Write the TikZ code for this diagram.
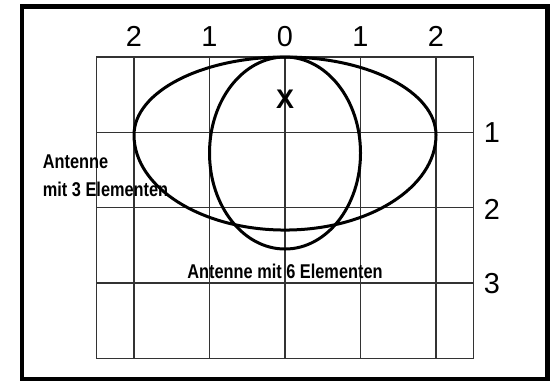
\documentclass[tikz,border=0pt]{standalone}
\usepackage{fontspec}
\setmainfont{Liberation Sans}
\newfontfamily\condfont[FakeStretch=0.82]{Liberation Sans}
\usepackage{tikz}

\begin{document}
\begin{tikzpicture}[x=75.5bp,y=-75.3bp,
		raster/.style={line width=1.3bp,black!80},
		achse/.style={font=\fontsize{29}{30}\selectfont,inner sep=0pt},
		beschr/.style={font=\condfont\bfseries\fontsize{20}{28}\selectfont,inner sep=0pt}]
	
	\useasboundingbox (-3.775,-0.757) rectangle (3.629,4.303);
	
	% Rahmen
	\draw[line width=4.5bp] (-3.483,-0.673) rectangle (3.477,4.276);
	
	% Raster
	\draw[raster] (-2.5,0) rectangle (2.5,4);
	\foreach \i in {-2,...,2}
		\draw[raster] (\i,0) -- (\i,4);
	\foreach \j in {1,2,3}
		\draw[raster] (-2.5,\j) -- (2.5,\j);
	
	% Achsenbeschriftung
	\node[achse] (o2l) at (-2,-0.27) {2};
	\node[achse] (o1l) at (-1,-0.27) {1};
	\node[achse] (o0) at (0,-0.27) {0};
	\node[achse] (o1r) at (1,-0.27) {1};
	\node[achse] (o2r) at (2,-0.27) {2};
	
	\node[achse] (r1) at (2.74,1) {1};
	\node[achse] (r2) at (2.74,2.02) {2};
	\node[achse] (r3) at (2.74,3.01) {3};
	
	% Standort
	\node[font=\bfseries\fontsize{27}{28}\selectfont,inner sep=0pt] (sender) at (0,0.558) {X};
	
	% Richtdiagramme
	\draw[line width=3bp] (-2,1.036) arc[start angle=180,end angle=360,x radius=2,y radius=1.036]
		arc[start angle=0,end angle=180,x radius=2,y radius=1.262];
	\draw[line width=3bp] (0,1.275) ellipse (1 and 1.275);
	
	\node[beschr,align=left,anchor=base west] (ant3) at (-3.209,1.846) {Antenne\\mit 3 Elementen};
	\node[beschr,anchor=base] (ant6) at (0,2.948) {Antenne mit 6 Elementen};
	
\end{tikzpicture}
\end{document}
